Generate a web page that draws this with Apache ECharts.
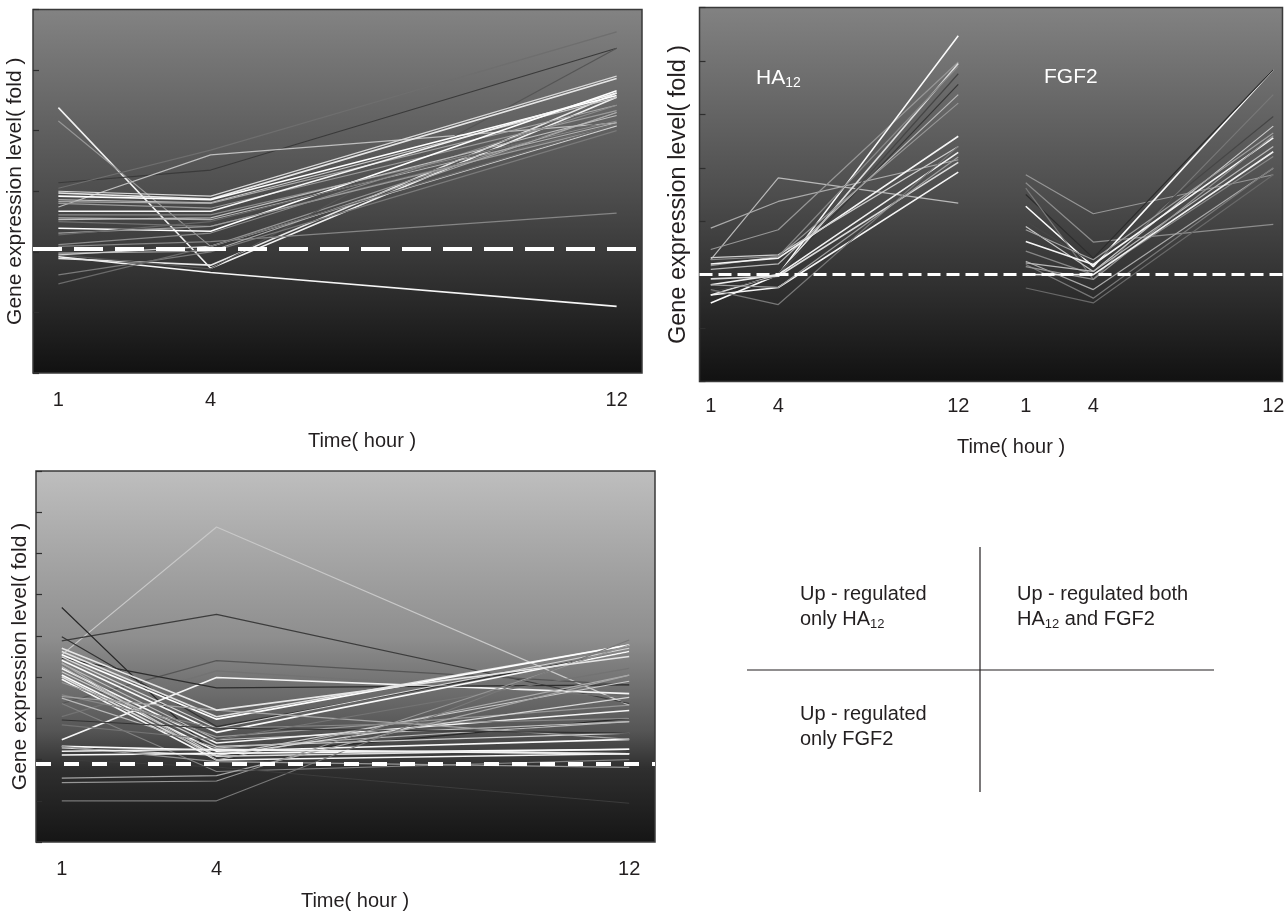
<!DOCTYPE html>
<html><head><meta charset="utf-8">
<script src="https://cdn.jsdelivr.net/npm/echarts@6/dist/echarts.min.js"></script>
<style>html,body{margin:0;padding:0;background:#fff}#c{width:1286px;height:913px}</style>
</head><body><div id="c"></div>
<script>
// ---------------- data ----------------
const timePoints = [1, 4, 12];
const timeTickLabels = ['1', '4', '12'];
const yAxisTitle = 'Gene expression level( fold )';
const xAxisTitle = 'Time( hour )';

// Panel A (top-left): [1 h, 4 h, 12 h]
const panelAGenes = [
  [0.92,0.66,0.10],[3.38,0.73,3.55],[0.89,0.78,3.62],[3.16,1.09,3.30],
  [2.14,2.35,4.36],[1.74,2.60,3.13],[2.05,2.68,4.63],[0.95,0.72,4.36],
  [2.00,1.92,3.90],[1.97,1.87,3.86],[1.92,1.86,3.58],[1.86,1.81,3.55],
  [1.83,1.80,3.42],[1.80,1.72,3.33],[1.67,1.67,3.62],[1.61,1.61,3.16],
  [1.56,1.53,3.13],[1.50,1.42,3.11],[1.39,1.34,3.66],[1.31,1.42,3.08],
  [1.28,1.50,3.20],[1.12,1.31,3.42],[1.09,1.17,1.64],[0.98,1.01,3.30],
  [0.95,1.09,3.08],[0.62,1.00,3.00],[0.47,1.09,3.10],[1.53,1.56,3.25]
];
const panelAShades = [245,240,230,150,58,190,110,85,215,230,255,200,168,154,244,138,176,112,255,156,102,140,133,172,207,122,106,189];
const panelABaseline = 1.05;

// Panel B (top-right): HA12 and FGF2
const ha12Genes = [
  [1.28,2.81,2.34],[1.87,2.37,3.15],[1.47,1.84,4.98],[0.47,1.00,5.47],
  [0.62,1.00,4.95],[0.67,0.97,4.76],[0.72,1.02,4.56],[1.10,1.20,4.37],
  [1.17,1.34,4.21],[1.20,1.31,3.59],[1.32,1.37,3.40],[0.81,1.00,3.29],
  [0.92,0.97,3.10],[0.62,0.76,2.92],[0.72,0.44,3.40],[1.28,1.34,4.90],
  [0.81,0.76,3.20]
];
const ha12Shades = [185,170,150,250,220,70,55,185,150,245,205,240,220,245,120,135,160];
const fgf2Genes = [
  [2.87,2.14,2.87],[2.72,1.61,1.94],[2.28,1.15,4.84],[2.50,1.31,4.84],
  [2.62,0.91,4.37],[2.00,1.22,3.96],[1.90,1.06,3.78],[1.84,1.28,3.65],
  [1.62,1.19,3.56],[1.44,1.00,3.21],[1.25,0.72,2.99],[1.22,1.06,3.40],
  [1.19,0.56,3.00],[1.15,0.91,3.60],[0.75,0.47,2.87],[1.00,1.00,3.30]
];
const fgf2Shades = [150,140,250,45,120,70,200,160,245,135,170,185,120,150,105,240];
const panelBBaseline = 1.0;

// Panel C (bottom-left)
const panelCGenes = [
  [3.54,6.64,2.32],[3.88,4.52,2.36],[4.69,1.07,2.00],[3.98,1.80,3.62],
  [2.36,3.40,2.81],[2.04,3.15,2.51],[1.48,2.99,2.60],[3.46,2.74,2.81],
  [3.62,2.04,3.78],[3.54,1.98,3.78],[3.49,1.76,3.70],[3.41,1.66,3.62],
  [3.33,1.48,1.92],[3.21,1.40,2.19],[3.13,1.32,1.64],[3.05,1.20,1.49],
  [3.01,1.08,1.25],[2.95,0.99,1.14],[3.35,0.99,3.05],[3.25,1.10,2.90],
  [2.87,1.55,2.32],[2.57,1.76,2.00],[2.49,1.28,1.92],[2.53,2.20,1.49],
  [2.36,0.71,1.00],[1.96,1.76,1.64],[1.84,1.48,3.21],[1.32,1.23,1.14],
  [1.28,1.10,2.51],[1.11,1.15,1.25],[0.55,0.61,3.05],[0.44,0.48,3.78],
  [0.00,0.00,3.90],[1.00,0.82,-0.06],[1.32,0.95,0.81],[1.20,1.25,1.14],
  [3.70,2.20,3.50]
];
const panelCShades = [200,60,40,50,85,115,245,45,225,255,215,250,190,245,205,250,220,245,170,200,150,135,185,165,130,50,115,250,215,250,165,150,120,60,150,240,230];
const panelCBaseline = 0.9;

// ---------------- layout / style ----------------
const FONT = "'Liberation Sans', Arial, Helvetica, sans-serif";
const TXT = '#231f20';
const FGF2_SHIFT = 14; // horizontal placement of the FGF2 block on the shared axis

function grad(stops) {
  return { type: 'linear', x: 0, y: 0, x2: 0, y2: 1,
    colorStops: stops.map(s => ({ offset: s[0], color: s[1] })) };
}
const grids = [
  { left: 33, top: 9.5, width: 609, height: 363.5,
    backgroundColor: grad([[0,'#838383'],[0.5,'#4e4e4e'],[1,'#111111']]) },
  { left: 699.5, top: 7.5, width: 583, height: 374,
    backgroundColor: grad([[0,'#828282'],[0.5,'#4d4d4d'],[1,'#111111']]) },
  { left: 36, top: 471, width: 619, height: 371,
    backgroundColor: grad([[0,'#bebebe'],[0.45,'#8e8e8e'],[0.7,'#555555'],[0.8,'#2f2f2f'],[1,'#151515']]) }
].map(g => Object.assign({ show: true, borderColor: '#3a3a3a', borderWidth: 1.5,
  containLabel: false, outerBoundsMode: 'none' }, g));

function labelFor(v, shift) {
  for (let k = 0; k < timePoints.length; k++) {
    if (Math.abs(v - timePoints[k]) < 1e-6) return timeTickLabels[k];
    if (shift && Math.abs(v - timePoints[k] - shift) < 1e-6) return timeTickLabels[k];
  }
  return '';
}
function xAxisFor(idx, max, margin, shift) {
  return { type: 'value', gridIndex: idx, min: 0.5, max: max, interval: 0.5,
    axisLine: { show: false }, axisTick: { show: false }, splitLine: { show: false },
    axisLabel: { margin: margin, fontSize: 20, fontFamily: FONT, color: TXT,
      showMinLabel: true, showMaxLabel: true,
      formatter: v => labelFor(v, shift) } };
}
function yAxisFor(idx, min, max, gap, fs) {
  return { type: 'value', gridIndex: idx, min: min, max: max, interval: 1,
    axisLine: { show: false }, splitLine: { show: false },
    axisTick: { show: true, inside: true, length: 6, lineStyle: { color: '#2e2e2e', width: 1.2 } },
    axisLabel: { show: false },
    name: yAxisTitle, nameLocation: 'middle', nameGap: gap,
    nameTextStyle: { fontSize: fs, fontFamily: FONT, color: TXT } };
}

const series = [];
function addLines(genes, shades, idx, shift) {
  genes.forEach((g, i) => {
    const s = shades[i];
    series.push({ type: 'line', xAxisIndex: idx, yAxisIndex: idx, symbol: 'none', silent: true,
      data: timePoints.map((t, k) => [t + shift, g[k]]),
      lineStyle: { color: `rgb(${s},${s},${s})`, width: s >= 220 ? 1.6 : 1.2 } });
  });
}
addLines(panelAGenes, panelAShades, 0, 0);
addLines(ha12Genes, ha12Shades, 1, 0);
addLines(fgf2Genes, fgf2Shades, 1, FGF2_SHIFT);
addLines(panelCGenes, panelCShades, 2, 0);

function baseline(idx, val, width, dash) {
  series.push({ type: 'line', xAxisIndex: idx, yAxisIndex: idx, data: [], silent: true, z: 5,
    markLine: { silent: true, symbol: 'none', label: { show: false }, animation: false,
      lineStyle: { color: '#ffffff', width: width, type: dash, opacity: 1 },
      emphasis: { disabled: true },
      data: [{ yAxis: val }] } });
}
baseline(0, panelABaseline, 4, [29, 12]);
baseline(1, panelBBaseline, 2.8, [13, 6]);
baseline(2, panelCBaseline, 4, [15, 13]);

function txt(x, y, text, fs, fill, extra) {
  return Object.assign({ type: 'text', x: x, y: y, silent: true, z: 100,
    style: { text: text, fontSize: fs, fontFamily: FONT, fill: fill,
      align: 'left', verticalAlign: 'middle' } }, extra || {});
}
function subRich(fs, sfs, fill, lh, slh) {
  return { b: { fontSize: fs, fontFamily: FONT, fill: fill, lineHeight: lh },
           s: { fontSize: sfs, fontFamily: FONT, fill: fill, lineHeight: slh, verticalAlign: 'bottom' } };
}
function richTxt(x, y, text, fs, sfs, fill, lh, slh) {
  return { type: 'text', x: x, y: y, silent: true, z: 100,
    style: { text: text, rich: subRich(fs, sfs, fill, lh, slh), fontSize: fs, fontFamily: FONT,
      fill: fill, align: 'left', verticalAlign: 'middle' } };
}

const graphic = [
  // x-axis titles
  { type: 'text', x: 362, y: 441, silent: true, style: { text: xAxisTitle, fontSize: 20, fontFamily: FONT, fill: TXT, align: 'center', verticalAlign: 'middle' } },
  { type: 'text', x: 1011, y: 447, silent: true, style: { text: xAxisTitle, fontSize: 20, fontFamily: FONT, fill: TXT, align: 'center', verticalAlign: 'middle' } },
  { type: 'text', x: 355, y: 901, silent: true, style: { text: xAxisTitle, fontSize: 20, fontFamily: FONT, fill: TXT, align: 'center', verticalAlign: 'middle' } },
  // panel B labels
  richTxt(756, 78, '{b|HA}{s|12}', 21, 14, '#ffffff', 24, 12),
  txt(1044, 77, 'FGF2', 21, '#ffffff'),
  // quadrant legend
  { type: 'line', silent: true, shape: { x1: 980, y1: 547, x2: 980, y2: 792 }, style: { stroke: TXT, lineWidth: 1.2 } },
  { type: 'line', silent: true, shape: { x1: 747, y1: 670, x2: 1214, y2: 670 }, style: { stroke: TXT, lineWidth: 1.2 } },
  txt(800, 594, 'Up - regulated', 20, TXT),
  richTxt(800, 619, '{b|only HA}{s|12}', 20, 13, TXT, 23, 12),
  txt(1017, 594, 'Up - regulated both', 20, TXT),
  richTxt(1017, 619, '{b|HA}{s|12}{b| and FGF2}', 20, 13, TXT, 23, 12),
  txt(800, 714, 'Up - regulated', 20, TXT),
  txt(800, 739, 'only FGF2', 20, TXT)
];

const option = {
  animation: false,
  backgroundColor: '#ffffff',
  grid: grids,
  xAxis: [xAxisFor(0, 12.5, 17, 0), xAxisFor(1, 26.41, 15, FGF2_SHIFT), xAxisFor(2, 12.5, 17, 0)],
  yAxis: [yAxisFor(0, -1, 5, 7, 21), yAxisFor(1, -1, 6, 9, 23.5), yAxisFor(2, -1, 8, 5, 21)],
  series: series,
  graphic: graphic
};
const chart = echarts.init(document.getElementById('c'), null, { renderer: 'canvas' });
chart.setOption(option);
</script></body></html>
